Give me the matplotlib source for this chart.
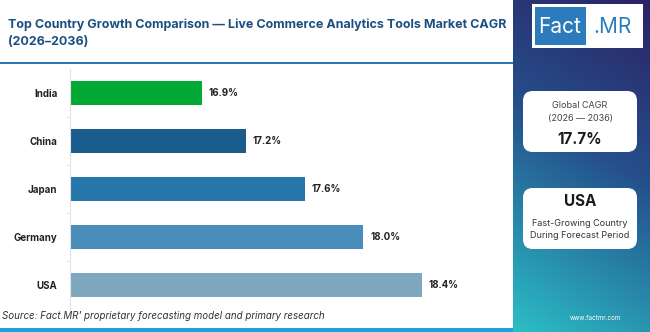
import numpy as np
import matplotlib
matplotlib.use("Agg")
import matplotlib.pyplot as plt
from matplotlib.patches import FancyBboxPatch, Rectangle
from matplotlib.colors import to_rgb

# ------------------------------------------
# DATA
# ------------------------------------------
countries = ['India', 'China', 'Japan', 'Germany', 'USA']
cagr = [16.9, 17.2, 17.6, 18.0, 18.4]
bar_colors = ['#00aa35', '#1a5c8c', '#2877ab', '#4a8dba', '#7fa7c0']

title = "Top Country Growth Comparison \u2014 Live Commerce Analytics Tools Market CAGR\n(2026\u20132036)"
source = "Source: Fact.MR' proprietary forecasting model and primary research"
global_cagr = "17.7%"
top_country = "USA"

plt.rcParams['font.family'] = ['Inter', 'DejaVu Sans']

W, H = 650, 332
fig = plt.figure(figsize=(W / 100, H / 100), dpi=100)
fig.patch.set_facecolor('white')

def fx(px):
    return px / W

def fy(py):
    return 1 - py / H

# ------------------------------------------
# RIGHT PANEL GRADIENT
# ------------------------------------------
pl = 513
gax = fig.add_axes([fx(pl), 0, 1 - fx(pl), 1])
gax.set_axis_off()
ny, nx = 200, 60
yy, xx = np.mgrid[0:1:ny * 1j, 0:1:nx * 1j]
s = np.clip(0.8 * yy + 0.2 * (1 - xx), 0, 1)
stops = [0.0, 0.45, 1.0]
cols = [to_rgb('#2c2264'), to_rgb('#25508c'), to_rgb('#2bbec6')]
img = np.zeros((ny, nx, 3))
for c in range(3):
    img[..., c] = np.interp(s, stops, [col[c] for col in cols])
gax.imshow(img, aspect='auto', extent=[0, 1, 1, 0])
gax.set_xlim(0, 1)
gax.set_ylim(1, 0)

# ------------------------------------------
# BAR CHART
# ------------------------------------------
ax = fig.add_axes([fx(70), fy(309), fx(510) - fx(70), (309 - 69) / H])
ypos = np.arange(len(countries))
ax.barh(ypos, [v - 16.0 for v in cagr], left=16.0, height=0.5, color=bar_colors)
ax.set_xlim(16.0, 19.0)
ax.set_ylim(len(countries) - 0.5, -0.5)
ax.set_yticks(ypos)
ax.set_yticklabels(countries, fontsize=7, fontweight='bold', color='#222222')
ax.set_yticks(np.arange(len(countries) - 1) + 0.5, minor=True)
ax.tick_params(axis='y', which='major', length=0, pad=9)
ax.tick_params(axis='y', which='minor', length=3, color='#dddddd')
ax.set_xticks([])
for sp in ['top', 'right', 'bottom']:
    ax.spines[sp].set_visible(False)
ax.spines['left'].set_color('#e2e2e2')
for y, v in zip(ypos, cagr):
    ax.annotate(f"{v:.1f}%", (v, y), xytext=(5, 0), textcoords='offset points',
                va='center', ha='left', fontsize=7, fontweight='bold', color='#222222')

# ------------------------------------------
# TITLE, LINES, SOURCE
# ------------------------------------------
fig.text(fx(8), fy(33), title, fontsize=9, fontweight='bold', color='#1b4f80',
         ha='left', va='center', linespacing=1.6)
fig.add_artist(Rectangle((0, fy(64)), fx(pl), 2.5 / H, transform=fig.transFigure,
                         color='#2a75b5', lw=0))
fig.add_artist(Rectangle((0, 0), fx(pl), 4 / H, transform=fig.transFigure,
                         color='#1ea3de', lw=0))
fig.text(fx(2), fy(316), source, fontsize=7, style='italic', color='#333333',
         ha='left', va='center')
fig.text(fx(595), fy(318), "www.factmr.com", fontsize=4.5, color='white',
         ha='center', va='center')

# ------------------------------------------
# LOGO
# ------------------------------------------
fig.add_artist(Rectangle((fx(532), fy(48)), fx(643) - fx(532), 44 / H,
                         transform=fig.transFigure, color='white', lw=0))
fig.add_artist(Rectangle((fx(535), fy(45)), fx(586) - fx(535), 38 / H,
                         transform=fig.transFigure, color='#2c7bbd', lw=0))
fig.text(fx(560), fy(27), "Fact", fontsize=15, color='white', ha='center', va='center')
fig.text(fx(613), fy(27), ".MR", fontsize=15, color='#2c7bbd', ha='center', va='center')

# ------------------------------------------
# CARDS
# ------------------------------------------
for top, bottom in [(91, 152), (188, 249)]:
    fig.add_artist(FancyBboxPatch((fx(523), fy(bottom)), fx(637) - fx(523), (bottom - top) / H,
                                  boxstyle="round,pad=0,rounding_size=0.015",
                                  transform=fig.transFigure, facecolor='white',
                                  edgecolor='none', mutation_aspect=W / H))

cx = fx(580)
fig.text(cx, fy(106), "Global CAGR", fontsize=6.5, color='#444444', ha='center', va='center')
fig.text(cx, fy(118), "(2026 \u2014 2036)", fontsize=6.5, color='#444444', ha='center', va='center')
fig.text(cx, fy(139), global_cagr, fontsize=11, fontweight='bold', color='#1a1a1a',
         ha='center', va='center')
fig.text(cx, fy(201), top_country, fontsize=11, fontweight='bold', color='#1a1a1a',
         ha='center', va='center')
fig.text(cx, fy(224), "Fast-Growing Country", fontsize=6.5, color='#333333',
         ha='center', va='center')
fig.text(cx, fy(236), "During Forecast Period", fontsize=6.5, color='#333333',
         ha='center', va='center')

fig.savefig('out.png', dpi=100)
